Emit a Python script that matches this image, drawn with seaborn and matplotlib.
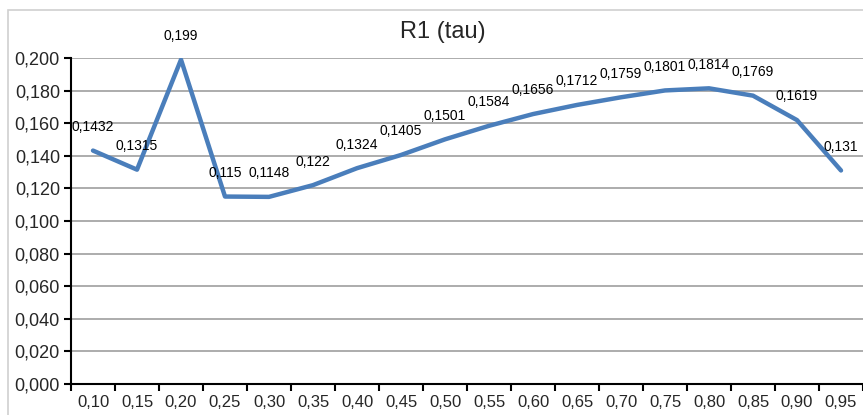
import numpy as np
import pandas as pd
import matplotlib
matplotlib.use("Agg")
import matplotlib.pyplot as plt
import matplotlib.ticker as mticker
from matplotlib.patches import Rectangle
import seaborn as sns

categories = ["0,10", "0,15", "0,20", "0,25", "0,30", "0,35", "0,40", "0,45", "0,50",
              "0,55", "0,60", "0,65", "0,70", "0,75", "0,80", "0,85", "0,90", "0,95"]
values = [0.1432, 0.1315, 0.199, 0.115, 0.1148, 0.122, 0.1324, 0.1405, 0.1501,
          0.1584, 0.1656, 0.1712, 0.1759, 0.1801, 0.1814, 0.1769, 0.1619, 0.131]
value_labels = ["0,1432", "0,1315", "0,199", "0,115", "0,1148", "0,122", "0,1324", "0,1405",
                "0,1501", "0,1584", "0,1656", "0,1712", "0,1759", "0,1801", "0,1814",
                "0,1769", "0,1619", "0,131"]
title = "R1 (tau)"

sns.set_style("white")
plt.rcParams['font.family'] = ['Liberation Sans', 'DejaVu Sans']

pos = np.arange(len(categories))
df = pd.DataFrame({"x": pos, "y": values})

fig = plt.figure(figsize=(8.63, 4.15), dpi=100)
fig.patches.append(Rectangle((8 / 863, -0.1), 1.2, (415 - 10) / 415 + 0.1,
                             transform=fig.transFigure, fill=False,
                             edgecolor="#d0d0d0", linewidth=1.2, zorder=0))
ax = fig.add_axes([71 / 863, 31 / 415, 792 / 863, 326 / 415])

sns.lineplot(data=df, x="x", y="y", ax=ax, color="#4a7ebb", linewidth=3.2, zorder=3)

for x, y, lab in zip(pos, values, value_labels):
    ax.annotate(lab, (x, y), xytext=(0, 17), textcoords="offset points",
                ha="center", va="center", fontsize=10, color="black", zorder=4)

ax.set_xlim(-0.5, len(categories) - 0.5)
ax.set_ylim(0, 0.2)
ax.set_yticks(np.arange(0, 0.2001, 0.02))
ax.yaxis.set_major_formatter(mticker.FuncFormatter(lambda v, p: f"{v:.3f}".replace(".", ",")))
ax.set_xticks(pos)
ax.set_xticklabels(categories)
ax.set_xticks(np.arange(-0.5, len(categories), 1), minor=True)
ax.tick_params(axis="x", which="major", length=0, pad=8, labelsize=12)
ax.tick_params(axis="x", which="minor", length=5, width=1.5, color="black", direction="out")
ax.tick_params(axis="y", length=5, width=1.5, color="black", direction="out", pad=3, labelsize=13)
ax.tick_params(left=True, bottom=False)
ax.xaxis.set_tick_params(which="minor", bottom=True)

ax.grid(axis="y", color="#a6a6a6", linewidth=1.3, zorder=1)
ax.set_axisbelow(True)
for s in ["top", "right"]:
    ax.spines[s].set_visible(False)
for s in ["left", "bottom"]:
    ax.spines[s].set_color("black")
    ax.spines[s].set_linewidth(1.5)
ax.set_xlabel("")
ax.set_ylabel("")

fig.text(443 / 863, 1 - 32 / 415, title, ha="center", va="center", fontsize=17)

fig.savefig("out.png", dpi=100)
